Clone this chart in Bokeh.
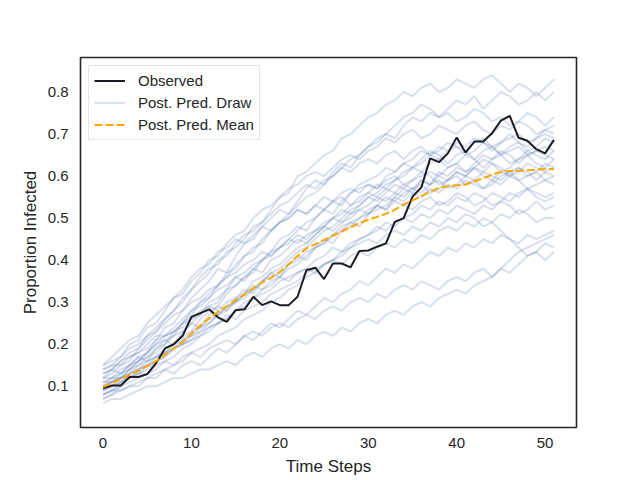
from bokeh.plotting import figure
from bokeh.models import Range1d, FixedTicker, Legend, LegendItem
from bokeh.embed import file_html
from bokeh.resources import INLINE

time_steps = list(range(52))

observed = [0.095, 0.102, 0.102, 0.122, 0.122, 0.129, 0.155, 0.19, 0.20, 0.22,
            0.265, 0.274, 0.283, 0.264, 0.253, 0.281, 0.283, 0.313, 0.293, 0.302,
            0.293, 0.293, 0.313, 0.376, 0.382, 0.355, 0.392, 0.392, 0.383, 0.422,
            0.423, 0.432, 0.44, 0.491, 0.50, 0.551, 0.573, 0.642, 0.633, 0.654,
            0.692, 0.656, 0.682, 0.682, 0.702, 0.732, 0.743, 0.691, 0.684, 0.664,
            0.654, 0.686]

pp_mean = [0.098, 0.108, 0.117, 0.127, 0.137, 0.148, 0.16, 0.175, 0.19, 0.205,
           0.225, 0.245, 0.262, 0.277, 0.29, 0.305, 0.318, 0.333, 0.347, 0.358,
           0.372, 0.39, 0.41, 0.428, 0.438, 0.448, 0.458, 0.468, 0.478, 0.488,
           0.496, 0.503, 0.51, 0.52, 0.532, 0.542, 0.552, 0.563, 0.572, 0.576,
           0.578, 0.58, 0.587, 0.595, 0.603, 0.61, 0.612, 0.612, 0.614, 0.615,
           0.617, 0.617]

draw_01 = [0.12,0.13,0.15,0.16,0.19,0.21,0.23,0.26,0.28,0.30,
           0.33,0.35,0.37,0.40,0.41,0.44,0.46,0.47,0.49,0.52,
           0.55,0.56,0.60,0.61,0.63,0.65,0.66,0.69,0.70,0.72,
           0.74,0.75,0.77,0.78,0.80,0.79,0.81,0.82,0.80,0.81,
           0.83,0.82,0.81,0.83,0.84,0.82,0.80,0.82,0.81,0.79,
           0.81,0.83]
draw_02 = [0.10,0.12,0.13,0.15,0.16,0.18,0.21,0.24,0.25,0.28,
           0.31,0.33,0.35,0.38,0.37,0.41,0.44,0.45,0.48,0.50,
           0.52,0.51,0.54,0.57,0.59,0.58,0.61,0.63,0.62,0.65,
           0.67,0.68,0.70,0.69,0.72,0.74,0.73,0.75,0.74,0.76,
           0.78,0.77,0.79,0.76,0.78,0.80,0.79,0.77,0.78,0.80,
           0.78,0.80]
draw_03 = [0.14,0.15,0.17,0.20,0.21,0.24,0.25,0.28,0.31,0.32,
           0.35,0.37,0.40,0.41,0.44,0.46,0.47,0.50,0.52,0.53,
           0.55,0.57,0.58,0.60,0.61,0.60,0.62,0.64,0.65,0.64,
           0.66,0.67,0.69,0.68,0.70,0.71,0.69,0.70,0.72,0.71,
           0.70,0.72,0.73,0.71,0.70,0.72,0.71,0.73,0.72,0.70,
           0.71,0.72]
draw_04 = [0.08,0.09,0.11,0.12,0.13,0.15,0.16,0.18,0.20,0.22,
           0.23,0.26,0.28,0.29,0.32,0.34,0.36,0.37,0.40,0.42,
           0.43,0.45,0.47,0.49,0.50,0.52,0.54,0.53,0.56,0.58,
           0.59,0.60,0.62,0.61,0.63,0.64,0.66,0.65,0.67,0.66,
           0.68,0.67,0.69,0.68,0.66,0.68,0.69,0.70,0.68,0.69,
           0.71,0.70]
draw_05 = [0.11,0.12,0.12,0.14,0.16,0.17,0.19,0.20,0.23,0.24,
           0.26,0.27,0.30,0.31,0.33,0.36,0.37,0.39,0.40,0.42,
           0.45,0.46,0.48,0.47,0.50,0.52,0.51,0.54,0.56,0.57,
           0.58,0.57,0.60,0.61,0.63,0.62,0.64,0.66,0.65,0.63,
           0.65,0.66,0.64,0.66,0.67,0.65,0.67,0.68,0.66,0.67,
           0.69,0.68]
draw_06 = [0.09,0.10,0.11,0.13,0.14,0.15,0.17,0.18,0.19,0.21,
           0.22,0.24,0.25,0.27,0.29,0.30,0.32,0.35,0.36,0.38,
           0.39,0.41,0.43,0.44,0.46,0.48,0.50,0.51,0.53,0.54,
           0.56,0.58,0.57,0.59,0.60,0.62,0.61,0.63,0.64,0.62,
           0.63,0.65,0.64,0.62,0.64,0.65,0.63,0.64,0.66,0.65,
           0.64,0.66]
draw_07 = [0.13,0.14,0.16,0.17,0.18,0.20,0.22,0.22,0.24,0.26,
           0.28,0.29,0.31,0.33,0.34,0.36,0.35,0.38,0.40,0.41,
           0.43,0.44,0.46,0.45,0.47,0.49,0.50,0.52,0.51,0.53,
           0.55,0.54,0.56,0.58,0.57,0.59,0.60,0.61,0.60,0.62,
           0.63,0.61,0.62,0.64,0.63,0.61,0.62,0.64,0.65,0.63,
           0.62,0.64]
draw_08 = [0.07,0.08,0.10,0.11,0.12,0.13,0.15,0.16,0.17,0.19,
           0.20,0.22,0.23,0.25,0.26,0.28,0.30,0.31,0.33,0.34,
           0.36,0.38,0.39,0.41,0.43,0.44,0.46,0.48,0.49,0.50,
           0.52,0.53,0.55,0.54,0.56,0.57,0.59,0.58,0.60,0.59,
           0.61,0.60,0.62,0.61,0.63,0.62,0.60,0.61,0.63,0.62,
           0.61,0.62]
draw_09 = [0.12,0.12,0.14,0.15,0.17,0.18,0.20,0.21,0.22,0.25,
           0.27,0.30,0.31,0.34,0.37,0.38,0.41,0.43,0.44,0.47,
           0.49,0.50,0.52,0.51,0.53,0.55,0.54,0.56,0.57,0.56,
           0.58,0.57,0.59,0.60,0.58,0.59,0.61,0.60,0.58,0.59,
           0.61,0.60,0.62,0.60,0.59,0.61,0.60,0.62,0.61,0.59,
           0.61,0.60]
draw_10 = [0.10,0.11,0.12,0.13,0.15,0.16,0.17,0.19,0.20,0.21,
           0.23,0.24,0.26,0.27,0.29,0.30,0.31,0.33,0.35,0.36,
           0.37,0.39,0.40,0.42,0.43,0.44,0.46,0.47,0.48,0.50,
           0.51,0.52,0.53,0.55,0.54,0.56,0.55,0.57,0.56,0.58,
           0.57,0.59,0.58,0.57,0.59,0.58,0.60,0.59,0.57,0.58,
           0.59,0.58]
draw_11 = [0.08,0.09,0.09,0.10,0.11,0.12,0.13,0.14,0.15,0.16,
           0.18,0.19,0.20,0.22,0.23,0.24,0.26,0.27,0.28,0.30,
           0.31,0.33,0.34,0.36,0.37,0.39,0.40,0.42,0.43,0.45,
           0.46,0.47,0.49,0.48,0.50,0.51,0.53,0.52,0.54,0.53,
           0.55,0.54,0.56,0.55,0.53,0.54,0.56,0.55,0.57,0.56,
           0.55,0.56]
draw_12 = [0.15,0.16,0.17,0.19,0.20,0.22,0.23,0.25,0.27,0.28,
           0.30,0.31,0.33,0.34,0.36,0.37,0.39,0.40,0.42,0.41,
           0.43,0.45,0.44,0.46,0.47,0.48,0.50,0.49,0.51,0.52,
           0.51,0.53,0.52,0.54,0.53,0.52,0.54,0.55,0.53,0.54,
           0.56,0.55,0.53,0.54,0.56,0.55,0.54,0.56,0.57,0.55,
           0.54,0.55]
draw_13 = [0.09,0.10,0.12,0.12,0.14,0.15,0.16,0.17,0.19,0.20,
           0.21,0.22,0.24,0.25,0.26,0.28,0.29,0.31,0.32,0.33,
           0.35,0.36,0.37,0.38,0.40,0.41,0.43,0.42,0.44,0.45,
           0.46,0.48,0.47,0.49,0.50,0.49,0.51,0.50,0.52,0.51,
           0.53,0.52,0.51,0.53,0.52,0.54,0.53,0.51,0.52,0.54,
           0.52,0.53]
draw_14 = [0.11,0.11,0.12,0.13,0.14,0.16,0.17,0.18,0.19,0.20,
           0.21,0.23,0.24,0.25,0.27,0.26,0.28,0.29,0.30,0.32,
           0.33,0.34,0.35,0.37,0.38,0.39,0.40,0.41,0.43,0.44,
           0.45,0.44,0.46,0.47,0.46,0.48,0.47,0.49,0.48,0.50,
           0.49,0.51,0.50,0.48,0.49,0.51,0.50,0.52,0.51,0.49,
           0.50,0.50]
draw_15 = [0.07,0.08,0.09,0.10,0.10,0.12,0.12,0.14,0.13,0.15,
           0.16,0.15,0.17,0.19,0.18,0.20,0.22,0.21,0.23,0.25,
           0.24,0.26,0.28,0.27,0.29,0.31,0.30,0.32,0.33,0.35,
           0.34,0.36,0.38,0.37,0.39,0.38,0.40,0.42,0.41,0.43,
           0.42,0.44,0.43,0.45,0.44,0.46,0.45,0.44,0.46,0.45,
           0.46,0.47]
draw_16 = [0.10,0.10,0.11,0.12,0.13,0.13,0.14,0.16,0.15,0.17,
           0.18,0.17,0.19,0.20,0.21,0.20,0.22,0.23,0.22,0.24,
           0.25,0.24,0.26,0.27,0.26,0.28,0.29,0.28,0.30,0.31,
           0.30,0.32,0.31,0.33,0.34,0.33,0.35,0.34,0.33,0.35,
           0.36,0.35,0.37,0.38,0.36,0.38,0.40,0.42,0.43,0.44,
           0.45,0.46]
draw_17 = [0.06,0.07,0.07,0.08,0.09,0.10,0.10,0.11,0.12,0.12,
           0.13,0.14,0.14,0.15,0.16,0.15,0.17,0.18,0.17,0.19,
           0.20,0.19,0.21,0.20,0.22,0.23,0.22,0.24,0.23,0.25,
           0.26,0.25,0.27,0.28,0.27,0.29,0.30,0.29,0.31,0.32,
           0.33,0.32,0.34,0.35,0.36,0.38,0.37,0.39,0.41,0.42,
           0.44,0.43]
draw_18 = [0.12,0.14,0.13,0.15,0.17,0.16,0.19,0.21,0.20,0.23,
           0.25,0.24,0.27,0.29,0.28,0.31,0.33,0.32,0.35,0.37,
           0.36,0.39,0.41,0.40,0.43,0.45,0.44,0.47,0.49,0.48,
           0.51,0.53,0.52,0.55,0.57,0.56,0.59,0.58,0.61,0.60,
           0.62,0.61,0.63,0.65,0.64,0.66,0.65,0.63,0.65,0.66,
           0.65,0.64]
draw_19 = [0.13,0.14,0.16,0.18,0.19,0.22,0.24,0.26,0.28,0.31,
           0.33,0.36,0.38,0.39,0.42,0.43,0.45,0.48,0.49,0.51,
           0.53,0.54,0.56,0.58,0.57,0.59,0.60,0.62,0.61,0.63,
           0.64,0.63,0.65,0.66,0.64,0.66,0.67,0.65,0.66,0.68,
           0.67,0.66,0.68,0.69,0.67,0.68,0.70,0.68,0.67,0.69,
           0.70,0.69]
draw_20 = [0.10,0.11,0.13,0.14,0.16,0.18,0.20,0.22,0.23,0.25,
           0.28,0.30,0.32,0.34,0.36,0.39,0.41,0.42,0.45,0.47,
           0.49,0.51,0.53,0.55,0.56,0.58,0.60,0.62,0.64,0.65,
           0.67,0.69,0.70,0.72,0.74,0.75,0.77,0.76,0.74,0.75,
           0.73,0.74,0.76,0.75,0.73,0.74,0.72,0.73,0.75,0.74,
           0.72,0.74]
draw_21 = [0.09,0.11,0.12,0.14,0.15,0.17,0.18,0.20,0.22,0.23,
           0.25,0.27,0.29,0.30,0.33,0.34,0.36,0.38,0.37,0.40,
           0.41,0.43,0.45,0.44,0.46,0.48,0.47,0.49,0.50,0.52,
           0.53,0.55,0.54,0.56,0.55,0.57,0.58,0.56,0.57,0.59,
           0.60,0.58,0.59,0.61,0.60,0.59,0.61,0.62,0.60,0.61,
           0.63,0.62]
draw_22 = [0.14,0.15,0.15,0.17,0.18,0.19,0.21,0.22,0.23,0.25,
           0.26,0.28,0.29,0.28,0.30,0.31,0.32,0.34,0.33,0.35,
           0.36,0.35,0.37,0.38,0.37,0.39,0.40,0.39,0.41,0.42,
           0.41,0.43,0.44,0.43,0.45,0.44,0.46,0.45,0.47,0.48,
           0.47,0.49,0.48,0.50,0.49,0.47,0.45,0.43,0.41,0.42,
           0.40,0.42]
draw_23 = [0.08,0.09,0.10,0.12,0.13,0.14,0.16,0.17,0.19,0.20,
           0.22,0.23,0.25,0.27,0.28,0.30,0.32,0.33,0.35,0.37,
           0.38,0.40,0.42,0.43,0.45,0.47,0.48,0.50,0.52,0.53,
           0.55,0.56,0.58,0.59,0.61,0.62,0.63,0.65,0.64,0.66,
           0.67,0.65,0.66,0.68,0.67,0.65,0.66,0.67,0.65,0.66,
           0.67,0.66]
draw_24 = [0.15,0.17,0.19,0.21,0.22,0.25,0.27,0.29,0.31,0.33,
           0.36,0.38,0.39,0.42,0.43,0.45,0.44,0.46,0.48,0.47,
           0.49,0.50,0.52,0.51,0.53,0.52,0.54,0.55,0.53,0.55,
           0.56,0.55,0.57,0.56,0.58,0.57,0.56,0.58,0.59,0.57,
           0.58,0.60,0.59,0.57,0.58,0.60,0.61,0.59,0.60,0.61,
           0.59,0.60]

draws = [draw_01, draw_02, draw_03, draw_04, draw_05, draw_06, draw_07, draw_08,
         draw_09, draw_10, draw_11, draw_12, draw_13, draw_14, draw_15, draw_16,
         draw_17, draw_18, draw_19, draw_20, draw_21, draw_22, draw_23, draw_24]

x_ticks = [0, 10, 20, 30, 40, 50]
y_ticks = [0.1, 0.2, 0.3, 0.4, 0.5, 0.6, 0.7, 0.8]

FONT = "Liberation Sans"
TXT = "#262626"

p = figure(width=640, height=480, output_backend="svg", toolbar_location=None,
           x_range=Range1d(-2.55, 53.55), y_range=Range1d(0.002, 0.882),
           min_border_left=80, min_border_right=64, min_border_top=57,
           min_border_bottom=53)
p.background_fill_color = "white"
p.border_fill_color = "white"
p.outline_line_color = "#262626"
p.outline_line_width = 1.6
p.xgrid.visible = False
p.ygrid.visible = False

for ax in (p.xaxis[0], p.yaxis[0]):
    ax.axis_line_color = None
    ax.major_tick_line_color = None
    ax.minor_tick_line_color = None
    ax.major_tick_out = 0
    ax.major_tick_in = 0
    ax.major_label_text_font = FONT
    ax.major_label_text_font_size = "15px"
    ax.major_label_text_color = TXT
    ax.axis_label_text_font = FONT
    ax.axis_label_text_font_size = "17px"
    ax.axis_label_text_font_style = "normal"
    ax.axis_label_text_color = TXT

p.xaxis.ticker = FixedTicker(ticks=x_ticks)
p.yaxis.ticker = FixedTicker(ticks=y_ticks)
p.xaxis.major_label_standoff = 10
p.yaxis.major_label_standoff = 12
p.xaxis.axis_label_standoff = 6
p.yaxis.axis_label_standoff = 5
p.xaxis.axis_label = "Time Steps"
p.yaxis.axis_label = "Proportion Infected"

draw_renderers = []
for d in draws:
    r = p.line(time_steps, d, line_color="#4c72b0", line_alpha=0.22, line_width=2)
    draw_renderers.append(r)

r_obs = p.line(time_steps, observed, line_color="#1c1c24", line_width=2)
r_mean = p.line(time_steps, pp_mean, line_color="#ffa500", line_width=2,
                line_dash="8 3")

legend = Legend(items=[
    LegendItem(label="Observed", renderers=[r_obs]),
    LegendItem(label="Post. Pred. Draw", renderers=[draw_renderers[0]]),
    LegendItem(label="Post. Pred. Mean", renderers=[r_mean]),
], location="top_left")
legend.margin = 8
legend.padding = 5
legend.spacing = 3
legend.label_height = 19
legend.glyph_height = 19
legend.glyph_width = 31
legend.label_standoff = 13
legend.label_text_font = FONT
legend.label_text_font_size = "15px"
legend.label_text_color = TXT
legend.border_line_color = "#cccccc"
legend.border_line_width = 1
legend.background_fill_color = "white"
legend.background_fill_alpha = 0.8
p.add_layout(legend, "center")

open("out.html", "w").write(file_html(p, INLINE))
